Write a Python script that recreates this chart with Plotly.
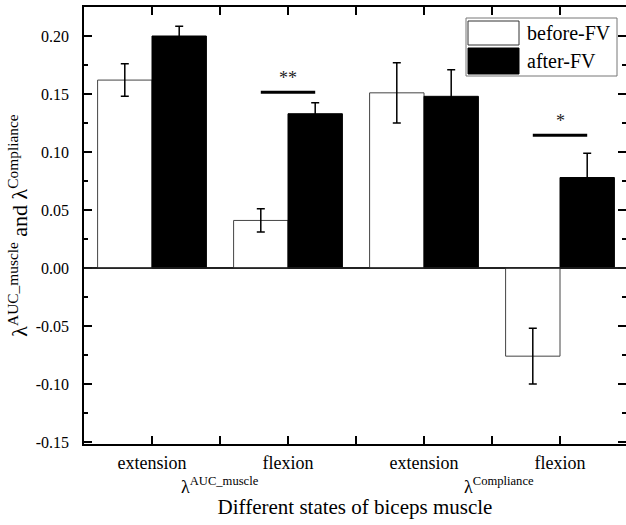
import plotly.graph_objects as go

# ---------------- data ----------------
categories = ["extension", "flexion", "extension", "flexion"]
before_fv = [0.162, 0.041, 0.151, -0.076]
before_err = [0.014, 0.010, 0.026, 0.024]
after_fv = [0.200, 0.133, 0.148, 0.078]
after_err = [0.0085, 0.0095, 0.023, 0.021]

group_labels = ["λ<sup>AUC_muscle</sup>", "λ<sup>Compliance</sup>"]
group_label_pos = [0.5, 2.55]

sig_category = [1, 3]
sig_level = [0.1516, 0.1145]
sig_text = ["**", "*"]

y_tickvals = [-0.15, -0.10, -0.05, 0.00, 0.05, 0.10, 0.15, 0.20]
y_ticktext = ["-0.15", "-0.10", "-0.05", "0.00", "0.05", "0.10", "0.15", "0.20"]

FONT = "Liberation Serif, Times New Roman, serif"
W, H = 626, 525
ML, MR, MT, MB = 84, 0, 7, 81
x_idx = list(range(len(categories)))
x_range = [-0.5, -0.5 + (W - ML - MR) / 136]


def px_to_paper(px, py):
    return (px - ML) / (W - ML - MR), (H - MB - py) / (H - MT - MB)


fig = go.Figure()
fig.add_trace(go.Bar(
    x=x_idx, y=before_fv, name="before-FV",
    marker=dict(color="white", line=dict(color="#444444", width=1)),
    error_y=dict(type="data", array=before_err, color="black", thickness=1.5, width=4),
    showlegend=False,
))
fig.add_trace(go.Bar(
    x=x_idx, y=after_fv, name="after-FV",
    marker=dict(color="black", line=dict(color="black", width=1)),
    error_y=dict(type="data", array=after_err, color="black", thickness=1.5, width=4),
    showlegend=False,
))
# invisible trace on yaxis2 for right-side ticks
fig.add_trace(go.Scatter(x=[0], y=[0], yaxis="y2", mode="markers",
                         marker=dict(opacity=0), showlegend=False, hoverinfo="skip"))

# zero line across the plot
fig.add_shape(type="line", xref="x", x0=x_range[0], x1=x_range[1], yref="y", y0=0, y1=0,
              line=dict(color="#222222", width=1.5), layer="above")

# significance bars
for c, lvl, txt in zip(sig_category, sig_level, sig_text):
    fig.add_shape(type="line", x0=c - 0.2, x1=c + 0.2, y0=lvl, y1=lvl,
                  line=dict(color="black", width=3))
    fig.add_annotation(x=c, y=lvl, text=txt, showarrow=False, yanchor="bottom",
                       yshift=2, font=dict(family=FONT, size=18, color="#222222"))

# group labels below the axis
for lab, pos in zip(group_labels, group_label_pos):
    fig.add_annotation(x=pos, y=0, xref="x", yref="paper", text=lab, showarrow=False,
                       yanchor="top", yshift=-28, font=dict(family=FONT, size=18, color="black"))

# legend drawn manually (large swatches like the original)
bx0, by1 = px_to_paper(466, 18)
bx1, by0 = px_to_paper(617, 76)
fig.add_shape(type="rect", xref="paper", yref="paper", x0=bx0, x1=bx1, y0=by0, y1=by1,
              line=dict(color="#777777", width=1), fillcolor="white")
sx0, sy1 = px_to_paper(468, 21)
sx1, sy0 = px_to_paper(519, 45)
fig.add_shape(type="rect", xref="paper", yref="paper", x0=sx0, x1=sx1, y0=sy0, y1=sy1,
              line=dict(color="#333333", width=1), fillcolor="white")
sx0, sy1 = px_to_paper(468, 48)
sx1, sy0 = px_to_paper(519, 74)
fig.add_shape(type="rect", xref="paper", yref="paper", x0=sx0, x1=sx1, y0=sy0, y1=sy1,
              line=dict(color="black", width=1), fillcolor="black")
for name, ty in [("before-FV", 33), ("after-FV", 61)]:
    tx, typ = px_to_paper(525, ty)
    fig.add_annotation(x=tx, y=typ, xref="paper", yref="paper", text=name, showarrow=False,
                       xanchor="left", yanchor="middle", font=dict(family=FONT, size=20, color="black"))

fig.update_layout(
    width=W, height=H,
    margin=dict(l=ML, r=MR, t=MT, b=MB, pad=0),
    paper_bgcolor="white", plot_bgcolor="white",
    barmode="group", bargap=0.2, bargroupgap=0,
    font=dict(family=FONT, color="black"),
    xaxis=dict(
        range=x_range, tickmode="array",
        tickvals=x_idx, ticktext=categories,
        showline=True, linecolor="black", linewidth=1.5, mirror="allticks",
        ticks="inside", ticklen=8, tickwidth=1.5, tickcolor="black",
        minor=dict(tickmode="array", tickvals=[0.5, 1.5, 2.5], ticks="inside",
                   ticklen=4, tickwidth=1.5, tickcolor="black"),
        showgrid=False, zeroline=False,
        tickfont=dict(family=FONT, size=18, color="black"),
        ticklabelstandoff=2,
        title=dict(text="Different states of biceps muscle",
                   font=dict(family=FONT, size=21, color="black"), standoff=27),
    ),
    yaxis=dict(
        range=[0.225 - 437 / 1160, 0.225], tickmode="array",
        tickvals=y_tickvals, ticktext=y_ticktext,
        showline=True, linecolor="black", linewidth=1.5, mirror=False,
        ticks="inside", ticklen=8, tickwidth=1.5, tickcolor="black",
        minor=dict(dtick=0.025, tick0=0, ticks="inside", ticklen=4, tickwidth=1.5, tickcolor="black"),
        showgrid=False, zeroline=True, zerolinecolor="#222222", zerolinewidth=1.5,
        tickfont=dict(family=FONT, size=16, color="black"),
        ticklabelstandoff=10,
        title=dict(text="λ<sup>AUC_muscle</sup> and λ<sup>Compliance</sup>",
                   font=dict(family=FONT, size=22, color="black"), standoff=2),
    ),
    yaxis2=dict(
        overlaying="y", side="right", matches="y", anchor="x",
        showline=False, showgrid=False, zeroline=False, showticklabels=False,
        tickmode="array", tickvals=y_tickvals,
        ticks="inside", ticklen=8, tickwidth=1.5, tickcolor="black",
        minor=dict(dtick=0.025, tick0=0, ticks="inside", ticklen=4, tickwidth=1.5, tickcolor="black"),
    ),
)

fig.write_html("out.html")
